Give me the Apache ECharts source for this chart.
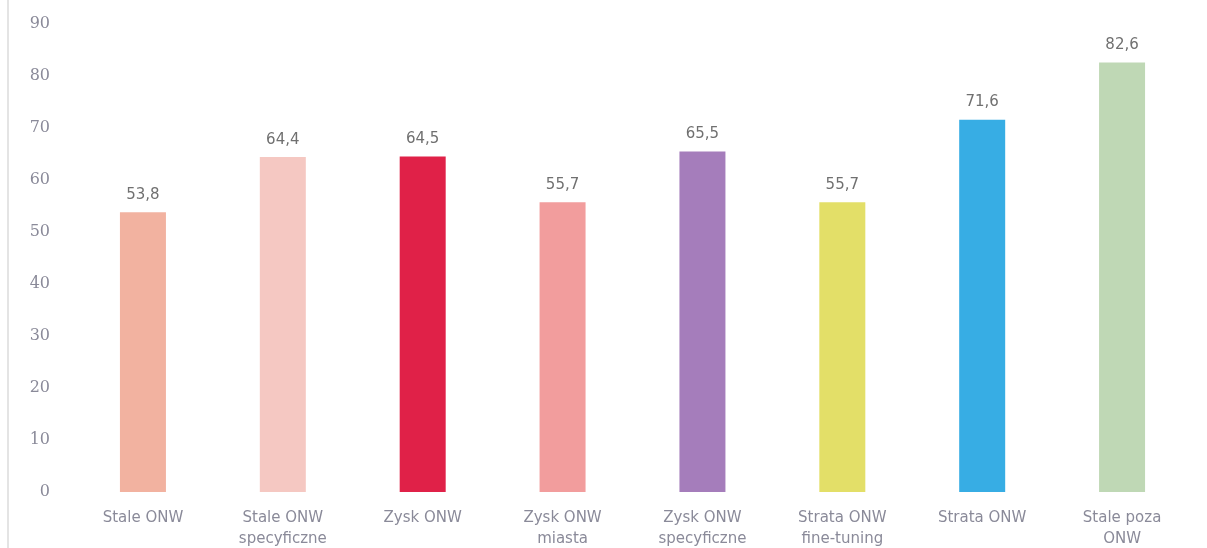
<!DOCTYPE html>
<html><head><meta charset="utf-8">
<script src="https://cdn.jsdelivr.net/npm/echarts@6/dist/echarts.min.js"></script>
<style>html,body{margin:0;padding:0;background:#fff}#c{width:1207px;height:548px}</style>
</head><body><div id="c"></div>
<script>
const categories = ["Stale ONW", "Stale ONW\nspecyficzne", "Zysk ONW", "Zysk ONW\nmiasta", "Zysk ONW\nspecyficzne", "Strata ONW\nfine-tuning", "Strata ONW", "Stale poza\nONW"];
const values = [53.8, 64.4, 64.5, 55.7, 65.5, 55.7, 71.6, 82.6];
const colors = ["#f2b2a0", "#f5c8c2", "#e02148", "#f29d9d", "#a57dbb", "#e3df68", "#37ade4", "#bfd8b5"];

const chart = echarts.init(document.getElementById('c'));
chart.setOption({
  animation: false,
  grid: {left: 73, right: 15, top: 24, bottom: 56, outerBoundsMode: 'none', containLabel: false},
  xAxis: {
    type: 'category', data: categories,
    axisLine: {show: false}, axisTick: {show: false},
    axisLabel: {color: '#8a8a99', fontSize: 15, fontFamily: 'DejaVu Sans', lineHeight: 21, margin: 16}
  },
  yAxis: {
    type: 'value', min: 0, max: 90, interval: 10,
    splitLine: {show: false}, axisLine: {show: false}, axisTick: {show: false},
    axisLabel: {color: '#8a8a99', fontSize: 16, fontFamily: 'DejaVu Serif', margin: 23}
  },
  series: [{
    type: 'bar', barWidth: 46,
    data: values.map((v, i) => ({value: v, itemStyle: {color: colors[i]}})),
    label: {show: true, position: 'top', distance: 10, color: '#707070', fontSize: 15, fontFamily: 'DejaVu Sans',
      formatter: p => String(p.value).replace('.', ',')}
  }],
  graphic: [{type: 'line', shape: {x1: 8, y1: 0, x2: 8, y2: 548}, style: {stroke: '#e4e4e4', lineWidth: 2}}]
});
</script></body></html>
